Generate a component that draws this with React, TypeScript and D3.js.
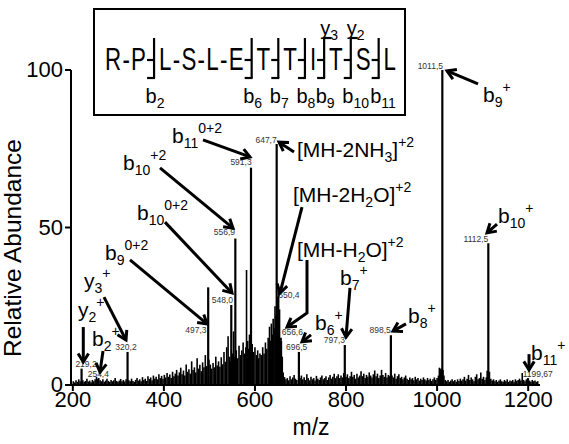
import React from "react";
import * as d3 from "d3";

const FONT = "Arial, 'Liberation Sans', Helvetica, sans-serif";
const W = 569;
const H = 444;

// ---------- data ----------
const xTickValues = [200, 400, 600, 800, 1000, 1200];
const yTickValues = [0, 50, 100];

const peakMz = [219.2, 254.4, 320.2, 497.3, 548.0, 556.9, 591.3, 647.7, 650.4, 656.6, 696.5, 797.3, 898.5, 1011.5, 1112.5, 1199.67];
const peakIntensity = [5.2, 2.0, 10.5, 31, 25.4, 46.5, 69, 76.5, 26, 15, 10.5, 12.7, 15.8, 100, 45, 2.2];
const peakText = ["219,2", "254,4", "320,2", "497,3", "548,0", "556,9", "591,3", "647,7", "650,4", "656,6", "696,5", "797,3", "898,5", "1011,5", "1112,5", "1199,67"];

// unlabeled background ions [m/z, relative abundance]
const backgroundPeaks: [number, number][] = [
  [201, 1.2], [204, 0.8], [207, 1.5], [210, 1.0], [213, 1.8], [216, 1.2], [222, 1.5], [225, 1.0], [228, 1.3], [231, 2.0],
  [234, 1.1], [237, 1.4], [240, 0.9], [243, 1.6], [246, 1.2], [249, 1.8], [252, 2.6], [257, 2.2], [260, 1.5], [263, 1.2],
  [266, 1.8], [269, 1.0], [272, 1.4], [275, 2.0], [278, 1.3], [281, 1.0], [284, 1.6], [287, 1.2], [290, 1.5], [293, 2.2],
  [296, 1.3], [299, 1.0], [302, 1.4], [305, 1.9], [308, 1.2], [311, 1.6], [314, 1.1], [317, 1.8], [323, 1.5], [326, 1.2],
  [329, 2.0], [332, 1.3], [335, 1.0], [338, 1.6], [341, 2.2], [344, 1.4], [347, 1.8], [350, 1.2], [353, 2.5], [356, 1.6],
  [359, 2.0], [362, 1.3], [365, 2.8], [368, 1.9], [371, 2.4], [374, 1.5], [377, 3.0], [380, 2.0], [383, 2.6], [386, 1.8],
  [389, 3.4], [392, 2.2], [395, 2.9], [398, 2.0], [401, 3.2], [404, 2.4], [407, 3.8], [410, 2.6], [413, 3.3], [416, 2.2],
  [419, 4.2], [422, 2.8], [425, 3.6], [428, 4.8], [431, 3.0], [434, 4.0], [437, 5.5], [440, 3.4], [443, 4.6], [446, 3.0],
  [449, 6.5], [452, 4.2], [455, 5.0], [458, 3.6], [461, 7.5], [464, 4.8], [467, 5.6], [470, 4.0], [473, 8.5], [476, 5.2],
  [479, 6.4], [482, 4.4], [485, 7.2], [488, 5.6], [491, 9.5], [494, 6.0], [499, 8.0], [502, 6.5], [505, 5.2], [508, 7.0],
  [511, 5.6], [514, 9.0], [517, 6.2], [520, 7.5], [523, 5.8], [526, 8.8], [529, 6.6], [532, 10.5], [535, 7.4], [538, 12.0],
  [541, 15.5], [544, 9.0], [546, 7.5], [551, 10.0], [553, 17.0], [555, 9.0], [559, 11.0], [562, 8.5], [565, 12.5], [568, 9.5],
  [571, 11.0], [574, 13.5], [577, 10.0], [580, 12.0], [581.5, 36.5], [584, 14.0], [586, 11.5], [588, 16.0], [594, 13.0], [597, 10.5],
  [600, 12.0], [603, 9.5], [606, 11.0], [608, 8.5], [611, 10.0], [614, 9.5], [617, 12.0], [620, 10.0], [623, 13.5], [626, 11.5],
  [629, 15.0], [632, 18.5], [634, 14.0], [636, 19.5], [638, 16.0], [640, 21.0], [642, 18.0], [644, 25.0], [646, 22.0], [649, 28.0],
  [652, 30.0], [654, 24.0], [658, 14.0], [660, 9.0], [662, 4.0], [665, 2.5], [668, 1.8], [671, 2.2], [674, 1.5], [677, 2.8],
  [680, 1.8], [683, 2.4], [686, 3.2], [689, 2.0], [692, 1.6], [699, 2.2], [702, 3.0], [705, 1.8], [708, 2.5], [711, 1.6],
  [714, 3.4], [717, 2.2], [720, 1.5], [723, 2.6], [726, 1.8], [729, 2.2], [732, 1.4], [735, 2.9], [738, 2.0], [741, 1.6],
  [744, 2.4], [747, 3.0], [750, 1.8], [753, 2.2], [756, 2.8], [759, 1.6], [762, 2.4], [765, 3.2], [768, 2.0], [771, 2.6],
  [774, 3.6], [777, 2.2], [780, 2.8], [783, 3.4], [786, 2.2], [789, 3.0], [792, 2.4], [795, 3.8], [800, 2.6], [803, 3.4],
  [806, 2.2], [809, 2.8], [812, 4.2], [815, 2.6], [818, 3.2], [821, 2.0], [824, 3.6], [827, 2.4], [830, 3.0], [833, 4.4],
  [836, 2.8], [839, 3.6], [842, 2.2], [845, 3.2], [848, 2.6], [851, 4.0], [854, 3.0], [857, 2.4], [860, 3.4], [863, 4.6],
  [866, 2.8], [869, 3.6], [872, 2.2], [875, 3.0], [878, 4.8], [881, 3.2], [884, 2.6], [887, 3.8], [890, 2.4], [893, 3.2],
  [896, 2.8], [901, 3.0], [904, 2.4], [907, 3.6], [910, 2.0], [913, 2.8], [916, 3.4], [919, 2.2], [922, 2.6], [925, 1.8],
  [928, 2.4], [931, 3.0], [934, 2.0], [937, 1.6], [940, 2.4], [943, 1.8], [946, 2.2], [949, 1.5], [952, 2.6], [955, 1.8],
  [958, 2.2], [961, 1.4], [964, 2.0], [967, 1.6], [970, 2.4], [973, 1.8], [976, 1.4], [979, 2.2], [982, 1.6], [985, 2.0],
  [988, 1.3], [991, 1.8], [994, 2.4], [997, 1.6], [1000, 2.2], [1003, 3.0], [1005, 5.5], [1007, 5.0], [1009, 5.2], [1013, 4.8],
  [1015, 3.0], [1018, 1.6], [1021, 1.2], [1024, 1.6], [1027, 1.0], [1030, 1.4], [1033, 1.8], [1036, 1.2], [1039, 1.6], [1042, 1.0],
  [1045, 1.8], [1048, 1.3], [1051, 2.0], [1054, 1.4], [1057, 1.8], [1060, 2.6], [1063, 1.4], [1066, 2.0], [1069, 3.2], [1072, 1.6],
  [1075, 2.4], [1078, 1.8], [1081, 1.2], [1084, 2.6], [1087, 3.4], [1090, 1.8], [1093, 2.2], [1096, 4.0], [1099, 2.0], [1102, 2.6],
  [1105, 1.6], [1108, 2.4], [1110, 4.5], [1115, 4.2], [1118, 2.0], [1121, 1.4], [1124, 1.8], [1127, 1.2], [1130, 1.6], [1133, 1.0],
  [1136, 1.4], [1139, 1.8], [1142, 1.2], [1145, 1.0], [1148, 1.6], [1151, 1.2], [1154, 1.8], [1157, 1.0], [1160, 1.4], [1163, 1.2],
  [1166, 1.6], [1169, 1.0], [1172, 1.8], [1175, 1.3], [1178, 1.6], [1181, 2.0], [1184, 1.4], [1187, 3.8], [1190, 1.6], [1193, 1.2],
  [1196, 1.8], [1203, 1.4], [1206, 1.0], [1209, 1.6], [1212, 1.2], [1215, 1.4], [1218, 1.0], [1221, 1.2],
];

// where the small m/z value labels sit (data units) and their alignment
const peakLabelPos: [number, number, string][] = [
  [229, 5.6, "middle"], [256, 2.6, "middle"], [316.8, 11.1, "middle"], [493.6, 16.5, "end"],
  [551.8, 25.9, "end"], [556.2, 47.6, "end"], [592.8, 69.8, "end"], [647.8, 76.7, "end"],
  [651.3, 27.5, "start"], [658.7, 15.9, "start"], [691.7, 11.1, "middle"], [797.8, 13.3, "end"],
  [898.2, 16.4, "end"], [1013, 100.2, "end"], [1112.5, 45.5, "end"], [1188, 2.6, "start"],
];

// ion annotations: label (left/baseline in data units) + arrow polyline in data units
const annotations: { label: string; at: [number, number]; arrow: [number, number][] }[] = [
  { label: "b_{9}^{+}", at: [1100.8, 89.8], arrow: [[1089.9, 95.6], [1021.8, 99.7]] },
  { label: "b_{10}^{+}", at: [1133.8, 51.4], arrow: [[1131.6, 51.1], [1109.6, 48.3]] },
  { label: "b_{8}^{+}", at: [936.1, 19.7], arrow: [[931.7, 19.4], [903.2, 17.1]] },
  { label: "b_{11}^{+}", at: [1206.3, 7.9], arrow: [[1201.9, 9.8], [1201.9, 4.8]] },
  { label: "b_{7}^{+}", at: [786.8, 31.7], arrow: [[808.7, 30.8], [800, 15.2]] },
  { label: "b_{6}^{+}", at: [731.9, 17.5], arrow: [[723.1, 15.9], [703.3, 13.7]] },
  { label: "[MH-H_{2}O]^{+2}", at: [692.3, 40.6], arrow: [[714.3, 39.7], [714.3, 22.9], [670.4, 18.4]] },
  { label: "[MH-2H_{2}O]^{+2}", at: [683.6, 58.1], arrow: [[703.3, 56.5], [655, 29.2]] },
  { label: "[MH-2NH_{3}]^{+2}", at: [692.3, 72.4], arrow: [[685.8, 74], [652.8, 77.1]] },
  { label: "b_{11}^{0+2}", at: [417.8, 76.8], arrow: [[485.9, 77.8], [589.1, 72.4]] },
  { label: "b_{10}^{+2}", at: [310.2, 68.3], arrow: [[391.5, 68.9], [551.8, 49.8]] },
  { label: "b_{10}^{0+2}", at: [341, 52.4], arrow: [[402.4, 51.7], [549.6, 29.2]] },
  { label: "b_{9}^{0+2}", at: [270.7, 39.7], arrow: [[325.6, 39.7], [494.7, 19.4]] },
  { label: "y_{3}^{+}", at: [224.6, 30.8], arrow: [[268.5, 27.9], [316.8, 14.3]] },
  { label: "y_{2}^{+}", at: [211.4, 21.6], arrow: [[223, 18.4], [223, 7.3]] },
  { label: "b_{2}^{+}", at: [242.1, 12.4], arrow: [[266.3, 10.8], [259.7, 4.1]] },
];

// peptide sequence and fragment sites (cleavage after residue n)
const residues = ["R", "P", "L", "S", "L", "E", "T", "T", "I", "T", "S", "L"];
const bSites = [2, 6, 7, 8, 9, 10, 11];
const ySites = [9, 10];

// ---------- helpers ----------
function parseLabel(s: string) {
  const parts: { t: string; k: string }[] = [];
  const re = /_\{([^}]*)\}|\^\{([^}]*)\}|([^_^]+)/g;
  let m: RegExpExecArray | null;
  while ((m = re.exec(s))) {
    if (m[1] !== undefined) parts.push({ t: m[1], k: "sub" });
    else if (m[2] !== undefined) parts.push({ t: m[2], k: "sup" });
    else parts.push({ t: m[3], k: "n" });
  }
  return parts;
}

function Rich({ x, y, label, size = 21, small = 14 }: { x: number; y: number; label: string; size?: number; small?: number }) {
  const parts = parseLabel(label);
  return (
    <text x={x} y={y} fontSize={size} fontFamily={FONT} fill="#000">
      {parts.map((p, i) => (
        <tspan
          key={i}
          y={p.k === "sub" ? y + 5 : p.k === "sup" ? y - 10 : y}
          fontSize={p.k === "n" ? size : small}
        >
          {p.t}
        </tspan>
      ))}
    </text>
  );
}

function Arrow({ pts }: { pts: [number, number][] }) {
  const line = d3.line();
  const n = pts.length;
  const [tx, ty] = pts[n - 1];
  const [px, py] = pts[n - 2];
  const ang = Math.atan2(ty - py, tx - px);
  const L = 10;
  const a1 = ang + Math.PI - 0.55;
  const a2 = ang + Math.PI + 0.55;
  const head = `M${tx + L * Math.cos(a1)},${ty + L * Math.sin(a1)}L${tx},${ty}L${tx + L * Math.cos(a2)},${ty + L * Math.sin(a2)}`;
  return (
    <g fill="none" stroke="#000" strokeWidth={3}>
      <path d={line(pts) || ""} strokeLinejoin="miter" />
      <path d={head} strokeLinejoin="miter" strokeLinecap="butt" />
    </g>
  );
}

export default function App() {
  const x = d3.scaleLinear().domain([196, 1226]).range([71, 540]);
  const y = d3.scaleLinear().domain([0, 100]).range([385, 70]);
  const px = (p: [number, number]): [number, number] => [x(p[0]), y(p[1])];

  // sequence layout
  const seqFont = 31;
  const sx = 0.72;
  const em = seqFont * sx;
  const charW: Record<string, number> = { R: 0.722, P: 0.667, L: 0.556, S: 0.667, E: 0.667, T: 0.611, I: 0.278 };
  const hyW = 10;
  const brW = 13;
  const base = 70;
  let cx = 105;
  const tokens: { ch: string; x: number }[] = [];
  const brackets: { x: number; left: number; n: number; b: boolean; yy: boolean }[] = [];
  residues.forEach((r, i) => {
    const w = charW[r] * em;
    tokens.push({ ch: r, x: cx + w / 2 });
    cx += w;
    if (i < residues.length - 1) {
      const n = i + 1;
      const isB = bSites.includes(n);
      const isY = ySites.includes(n);
      if (isB || isY) {
        brackets.push({ x: cx + brW * 0.62, left: cx + 1, n, b: isB, yy: isY });
        cx += brW;
      } else {
        tokens.push({ ch: "-", x: cx + hyW / 2 });
        cx += hyW;
      }
    }
  });

  return (
    <svg width={W} height={H} style={{ position: "absolute", left: 0, top: 0, background: "#fff" }} fontFamily={FONT}>
      <rect x={0} y={0} width={W} height={H} fill="#fff" />

      {/* background peaks */}
      <g stroke="#000" strokeWidth={1.6}>
        {backgroundPeaks.map(([m, v], i) => (
          <line key={i} x1={x(m)} x2={x(m)} y1={y(0)} y2={y(v)} />
        ))}
      </g>
      {/* labeled peaks */}
      <g stroke="#000" strokeWidth={2.2}>
        {peakMz.map((m, i) => (
          <line key={i} x1={x(m)} x2={x(m)} y1={y(0)} y2={y(peakIntensity[i])} />
        ))}
      </g>
      {/* peak value labels */}
      <g fontSize={8.5} fill="#333">
        {peakText.map((t, i) => {
          const [m, v, a] = peakLabelPos[i];
          return (
            <text key={i} x={x(m)} y={y(v)} textAnchor={a as any}>
              {t}
            </text>
          );
        })}
      </g>

      {/* axes */}
      <g stroke="#000" strokeWidth={2} fill="none">
        <path d={`M${x.range()[0]},${y(100)}V${y(0)}H${x.range()[1]}`} />
        {yTickValues.map((t) => (
          <line key={t} x1={65} x2={71} y1={y(t)} y2={y(t)} />
        ))}
        {xTickValues.map((t) => (
          <line key={t} x1={x(t)} x2={x(t)} y1={y(0)} y2={y(0) + 6} />
        ))}
      </g>
      <g fontSize={22} fill="#000">
        {yTickValues.map((t) => (
          <text key={t} x={63} y={y(t)} dy="0.32em" textAnchor="end">
            {t}
          </text>
        ))}
        {xTickValues.map((t) => (
          <text key={t} x={x(t)} y={407} textAnchor="middle">
            {t}
          </text>
        ))}
      </g>
      <text x={311} y={435} fontSize={23} textAnchor="middle">m/z</text>
      <text transform="translate(21,248) rotate(-90)" fontSize={24.5} textAnchor="middle">Relative Abundance</text>

      {/* annotations */}
      {annotations.map((a, i) => {
        const [tx, ty] = px(a.at);
        return (
          <g key={i}>
            <Arrow pts={a.arrow.map(px)} />
            <Rich x={tx} y={ty} label={a.label} />
          </g>
        );
      })}

      {/* sequence box */}
      <rect x={94} y={9} width={311} height={106} fill="#fff" stroke="#000" strokeWidth={2} />
      {tokens.map((t, i) => (
        <text key={i} transform={`translate(${t.x},${base}) scale(${sx},1)`} fontSize={seqFont} textAnchor="middle">
          {t.ch}
        </text>
      ))}
      <g stroke="#000" strokeWidth={2.2} fill="none">
        {brackets.map((b, i) => (
          <g key={i}>
            <line x1={b.x} x2={b.x} y1={base - 32} y2={base + 8} />
            <line x1={b.left} x2={b.x} y1={base - 10} y2={base - 10} />
            {b.b && <line x1={b.x - 7} x2={b.x + 1} y1={base + 8} y2={base + 8} />}
            {b.yy && <line x1={b.x - 1} x2={b.x + 7} y1={base - 32} y2={base - 32} />}
          </g>
        ))}
      </g>
      {brackets.filter((b) => b.b).map((b, i) => (
        <Rich key={"b" + i} x={b.x - 8.5} y={103} label={`b_{${b.n}}`} size={20} small={14} />
      ))}
      {brackets.filter((b) => b.yy).map((b, i) => (
        <Rich key={"y" + i} x={b.x - 4} y={35} label={`y_{${residues.length - b.n}}`} size={20} small={14} />
      ))}
    </svg>
  );
}
